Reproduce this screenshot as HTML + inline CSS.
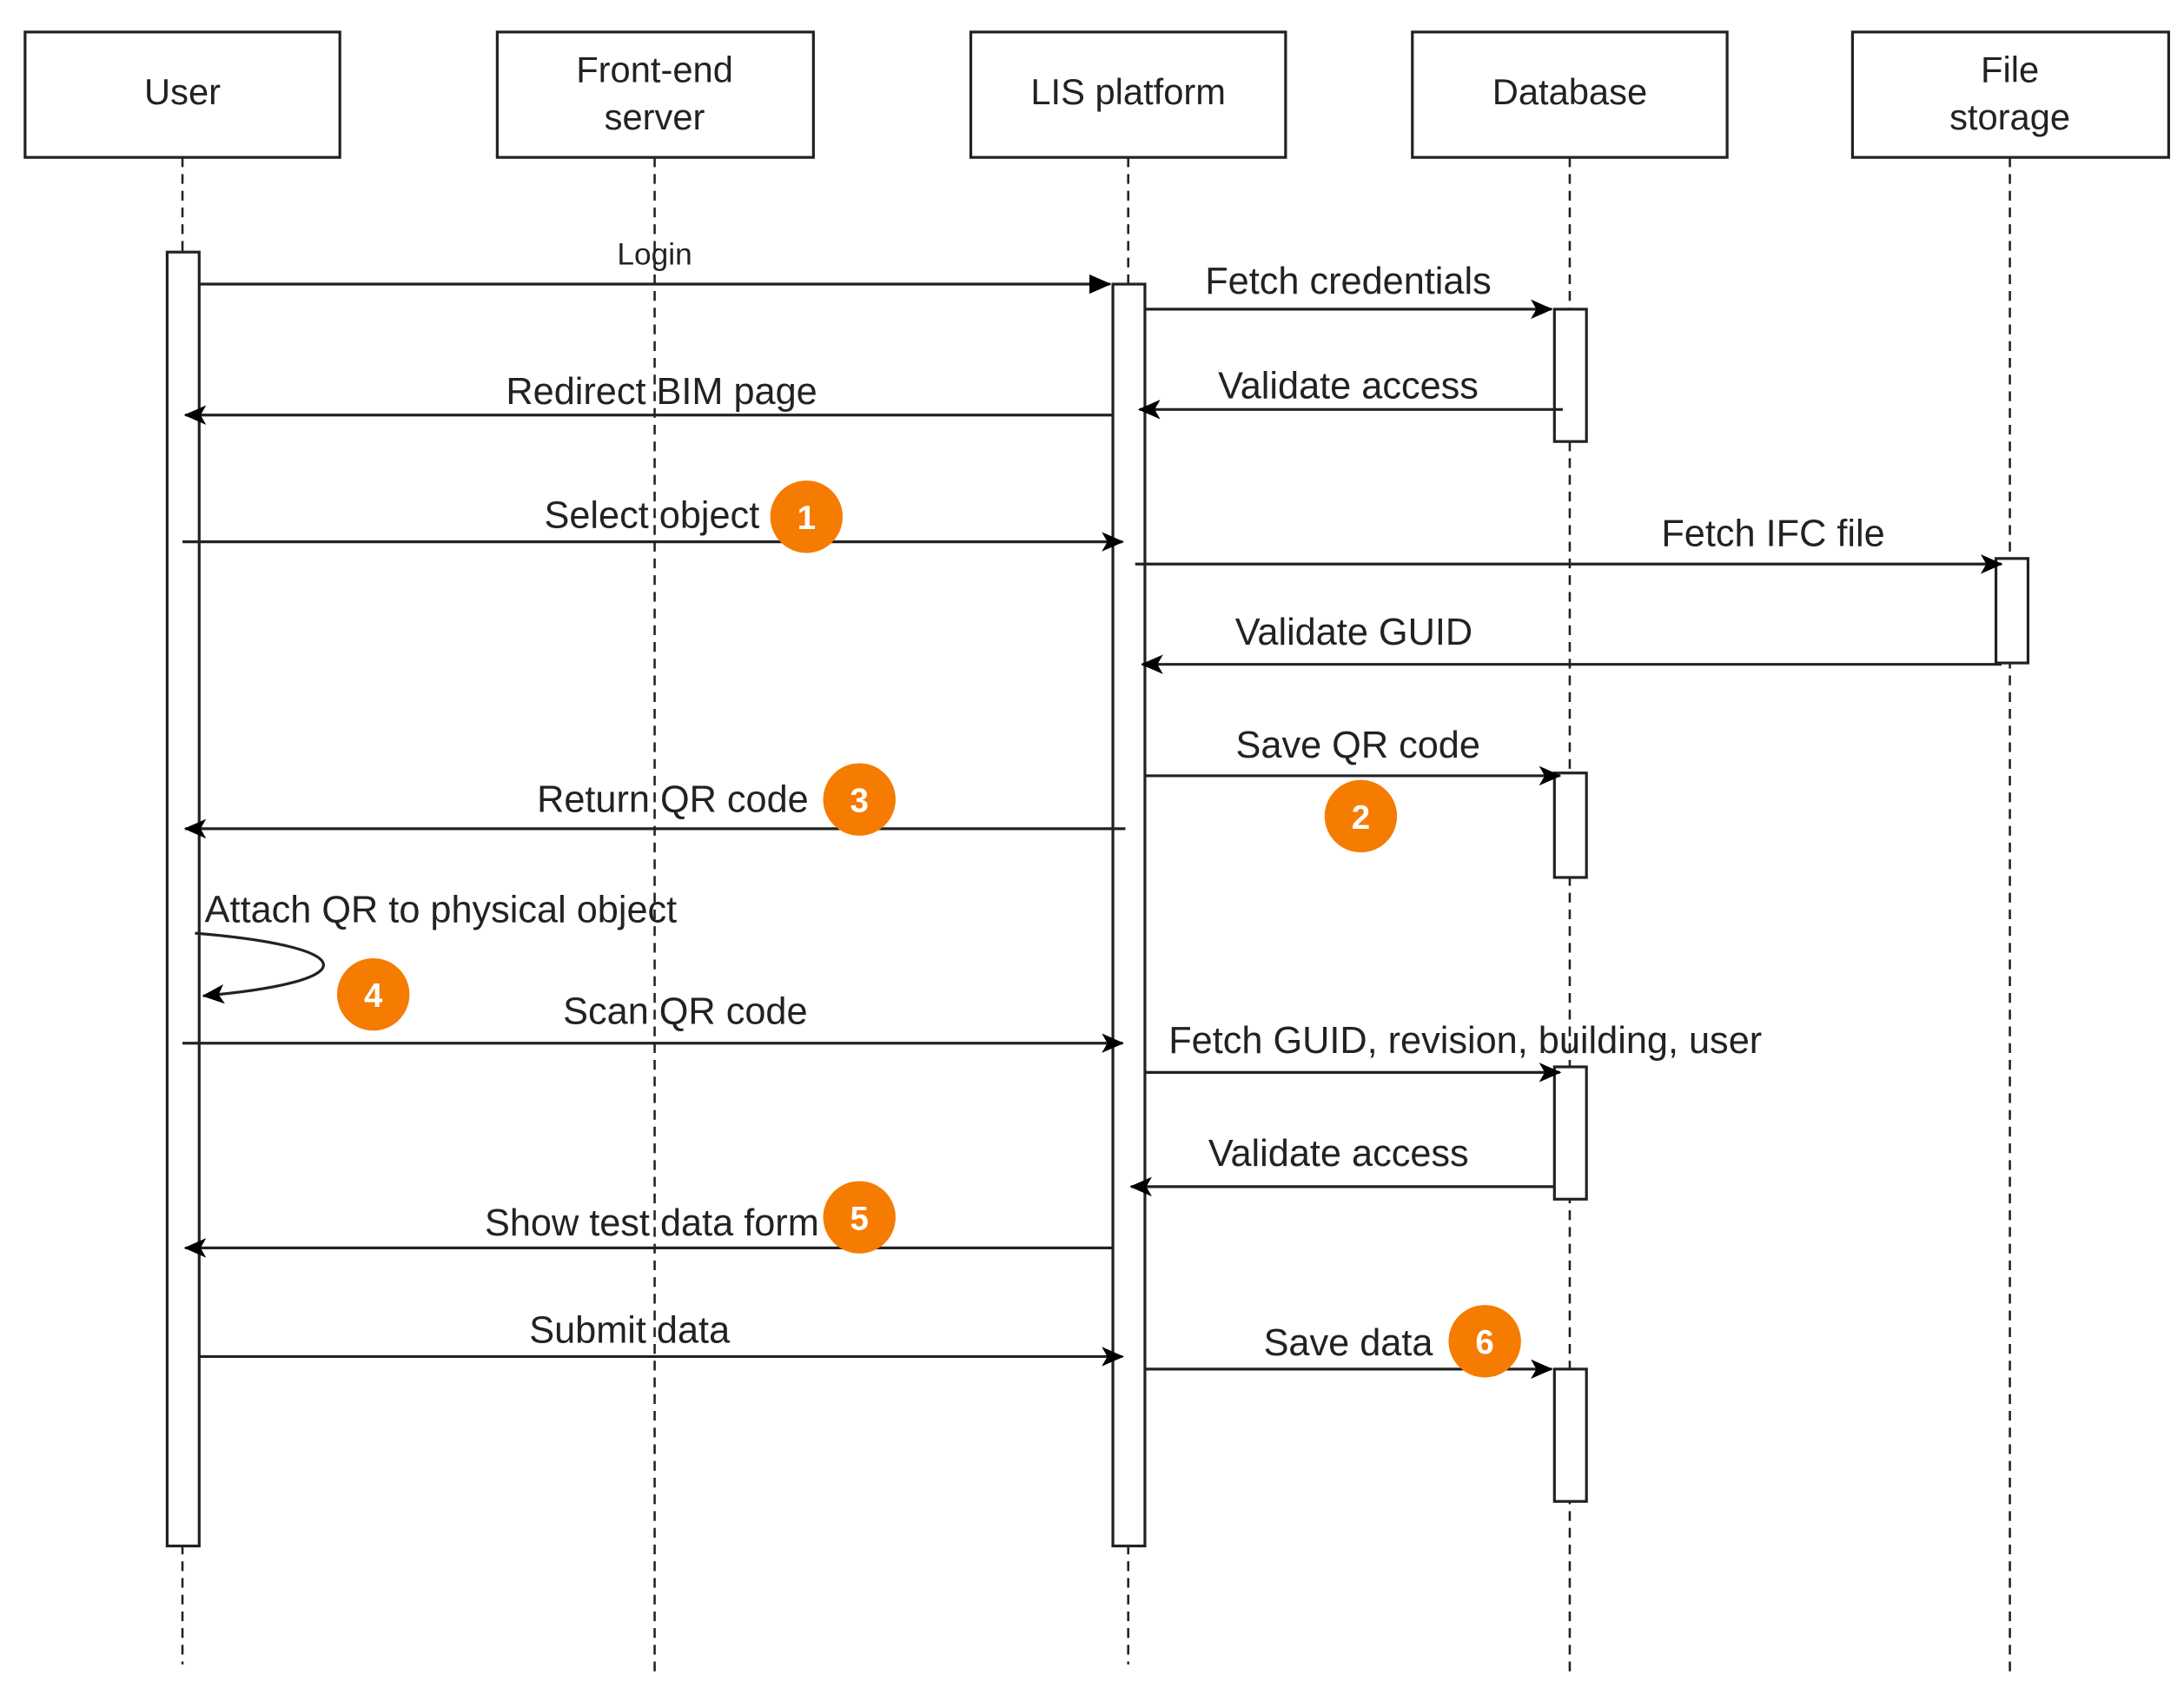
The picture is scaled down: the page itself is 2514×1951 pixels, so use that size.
<!DOCTYPE html>
<html><head><meta charset="utf-8"><style>html,body{margin:0;padding:0;background:#fff}svg{display:block}</style></head>
<body>
<svg width="2514" height="1951" viewBox="0 0 1568 1217" preserveAspectRatio="none" xmlns="http://www.w3.org/2000/svg" font-family="Liberation Sans, Arial, sans-serif">
<defs>
<marker id="a" viewBox="0 0 16 16" refX="15" refY="8" markerWidth="16" markerHeight="16" markerUnits="userSpaceOnUse" orient="auto"><path d="M0,1 L16,8 L0,15 L4,8 Z" fill="#000"/></marker>
<marker id="f" viewBox="0 0 16 16" refX="15" refY="8" markerWidth="16" markerHeight="16" markerUnits="userSpaceOnUse" orient="auto"><path d="M0,1 L16,8 L0,15 Z" fill="#000"/></marker>
</defs>
<g fill="#fff" stroke="#222" stroke-width="2">
<rect x="18" y="23" width="226" height="90"/>
<rect x="357" y="23" width="227" height="90"/>
<rect x="697" y="23" width="226" height="90"/>
<rect x="1014" y="23" width="226" height="90"/>
<rect x="1330" y="23" width="227" height="90"/>
</g>
<g stroke="#222" stroke-width="1.6" stroke-dasharray="7,5">
<line x1="131" y1="113" x2="131" y2="1195"/>
<line x1="470" y1="113" x2="470" y2="1200"/>
<line x1="810" y1="113" x2="810" y2="1195"/>
<line x1="1127" y1="113" x2="1127" y2="1200"/>
<line x1="1443" y1="113" x2="1443" y2="1200"/>
</g>
<g fill="#fff" stroke="#222" stroke-width="2">
<rect x="120" y="181" width="23" height="929"/>
<rect x="799" y="204" width="23" height="906"/>
<rect x="1116" y="222" width="23" height="95"/>
<rect x="1116" y="555" width="23" height="75"/>
<rect x="1116" y="766" width="23" height="95"/>
<rect x="1116" y="983" width="23" height="95"/>
<rect x="1433" y="401" width="23" height="75"/>
</g>
<g stroke="#222" stroke-width="2" fill="none">
<line x1="143" y1="204" x2="797" y2="204" marker-end="url(#f)"/>
<line x1="822" y1="222" x2="1114" y2="222" marker-end="url(#a)"/>
<line x1="799" y1="298" x2="133" y2="298" marker-end="url(#a)"/>
<line x1="1122" y1="294" x2="818" y2="294" marker-end="url(#a)"/>
<line x1="131" y1="389" x2="806" y2="389" marker-end="url(#a)"/>
<line x1="815" y1="405" x2="1437" y2="405" marker-end="url(#a)"/>
<line x1="1437" y1="477" x2="820" y2="477" marker-end="url(#a)"/>
<line x1="822" y1="557" x2="1120" y2="557" marker-end="url(#a)"/>
<line x1="808" y1="595" x2="133" y2="595" marker-end="url(#a)"/>
<path d="M140,670 C262,680 262,705 146,715" marker-end="url(#a)"/>
<line x1="131" y1="749" x2="806" y2="749" marker-end="url(#a)"/>
<line x1="822" y1="770" x2="1120" y2="770" marker-end="url(#a)"/>
<line x1="1116" y1="852" x2="812" y2="852" marker-end="url(#a)"/>
<line x1="799" y1="896" x2="133" y2="896" marker-end="url(#a)"/>
<line x1="143" y1="974" x2="806" y2="974" marker-end="url(#a)"/>
<line x1="822" y1="983" x2="1114" y2="983" marker-end="url(#a)"/>
</g>
<g font-size="26" fill="#222" text-anchor="middle">
<text x="131" y="75">User</text>
<text x="470" y="59">Front-end</text>
<text x="470" y="93">server</text>
<text x="810" y="75">LIS platform</text>
<text x="1127" y="75">Database</text>
<text x="1443" y="59">File</text>
<text x="1443" y="93">storage</text>
</g>
<g font-size="27" fill="#222" text-anchor="middle">
<text x="470" y="190" font-size="22">Login</text>
<text x="968" y="211">Fetch credentials</text>
<text x="475" y="290">Redirect BIM page</text>
<text x="968" y="286">Validate access</text>
<text x="468" y="379">Select object</text>
<text x="1273" y="392">Fetch IFC file</text>
<text x="972" y="463">Validate GUID</text>
<text x="975" y="544">Save QR code</text>
<text x="483" y="583">Return QR code</text>
<text x="147" y="662" text-anchor="start">Attach QR to physical object</text>
<text x="492" y="735">Scan QR code</text>
<text x="1052" y="756">Fetch GUID, revision, building, user</text>
<text x="961" y="837">Validate access</text>
<text x="468" y="887">Show test data form</text>
<text x="452" y="964">Submit data</text>
<text x="968" y="973">Save data</text>
</g>
<g fill="#f57c00">
<circle cx="579" cy="371" r="26"/>
<circle cx="977" cy="586" r="26"/>
<circle cx="617" cy="574" r="26"/>
<circle cx="268" cy="714" r="26"/>
<circle cx="617" cy="874" r="26"/>
<circle cx="1066" cy="963" r="26"/>
</g>
<g font-size="24" font-weight="bold" fill="#fff" text-anchor="middle">
<text x="579" y="380">1</text>
<text x="977" y="595">2</text>
<text x="617" y="583">3</text>
<text x="268" y="723">4</text>
<text x="617" y="883">5</text>
<text x="1066" y="972">6</text>
</g>
</svg>
</body></html>
